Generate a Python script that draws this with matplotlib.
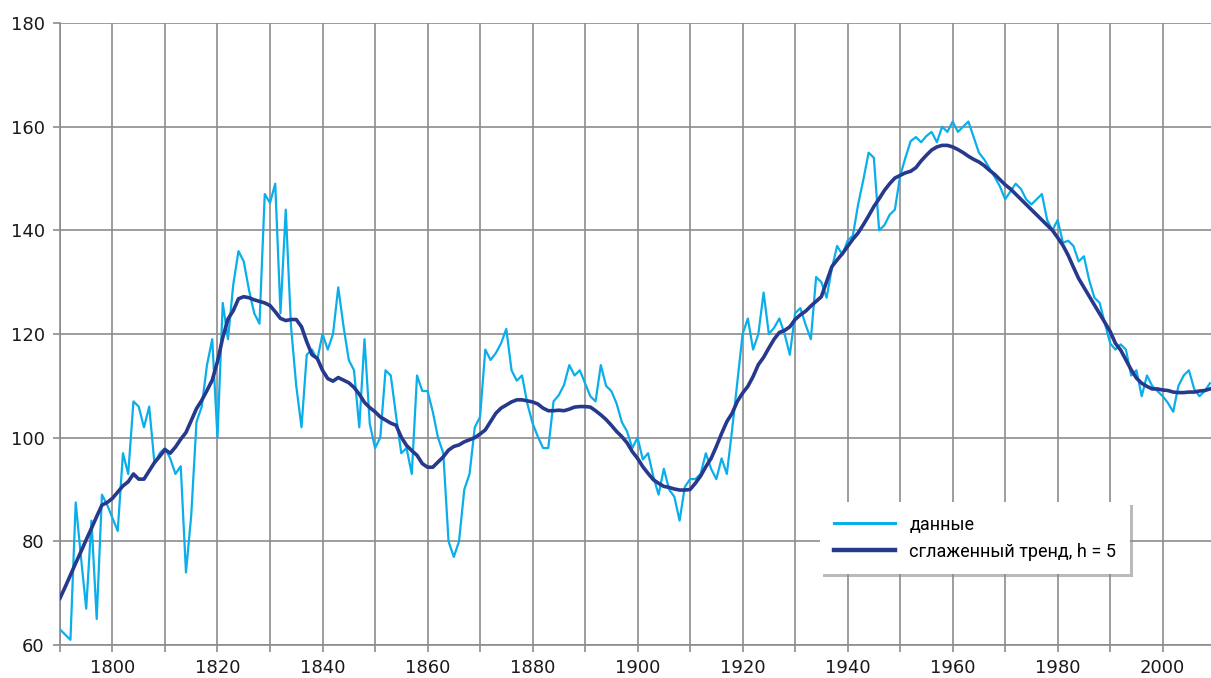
import matplotlib
matplotlib.use("Agg")
import matplotlib.pyplot as plt
from matplotlib.ticker import MultipleLocator, FuncFormatter

# years 1790..2009
start_year = 1790

data = [63, 62, 61, 87.5, 77, 67, 84, 65, 89, 87,
        84.5, 82, 97, 93, 107, 106, 102, 106, 95, 97,
        98, 96, 93, 94.5, 74, 85, 103, 106, 114, 119,
        100, 126, 119, 129.5, 136, 134, 128.5, 124, 122, 147,
        145.3, 149, 124, 144, 121.5, 110, 102, 116, 117, 115,
        120, 117, 120, 129, 121.5, 115, 113, 102, 119, 102.7,
        98, 100, 113, 112, 104.3, 97, 98, 93, 112, 109,
        109, 105, 100, 97, 80, 77, 80, 90, 93, 102,
        104, 117, 115, 116.3, 118.2, 121, 113, 111, 112, 106.6,
        102.8, 100.2, 98, 98, 107, 108.2, 110.2, 114, 112, 113,
        110.5, 108, 107, 114, 110, 109, 106.6, 103, 101.2, 98,
        100, 95.8, 97, 92.5, 89, 94, 90, 88.6, 84, 90.5,
        92, 92, 93, 97, 94, 92, 96, 93, 101.5, 110.8,
        120, 123, 117, 120, 128, 120, 121.2, 123, 120, 116,
        124, 125, 121.8, 119, 131, 130, 127, 132.7, 137, 135.3,
        138, 139, 145, 149.8, 155, 154, 140, 141, 143, 144,
        150.5, 154, 157.2, 158, 157, 158.2, 159, 157, 160, 159,
        161, 159, 160, 161, 158, 155, 153.7, 152, 150.3, 148.5,
        146, 147.5, 149, 148, 146, 145, 146, 147, 142, 140,
        142, 137.6, 138, 137, 134, 135, 130.4, 127, 126, 122,
        118.2, 117, 118, 117, 112, 113, 108, 112, 110, 109,
        108, 106.7, 105, 110, 112, 113, 109.4, 108, 109, 110.5]

trend = [69, 71.2, 73.5, 75.8, 78, 80.3, 82.5, 84.8, 87, 87.5,
         88.3, 89.5, 90.7, 91.5, 93, 92, 92, 93.6, 95.2, 96.4,
         97.7, 97, 98.2, 99.7, 101, 103.3, 105.6, 107.2, 109.1, 111.1,
         114.7, 119.3, 122.9, 124.5, 126.8, 127.2, 127, 126.6, 126.3, 126,
         125.5, 124.3, 123, 122.6, 122.8, 122.8, 121.4, 118.5, 116, 115.3,
         113, 111.4, 110.9, 111.6, 111.1, 110.6, 109.7, 108.4, 106.8, 105.8,
         105, 104, 103.4, 102.8, 102.4, 100.1, 98.5, 97.5, 96.6, 95,
         94.3, 94.3, 95.3, 96.3, 97.6, 98.3, 98.6, 99.2, 99.6, 100,
         100.7, 101.5, 103.1, 104.7, 105.7, 106.3, 106.9, 107.3, 107.3, 107.1,
         106.9, 106.5, 105.7, 105.2, 105.2, 105.3, 105.2, 105.5, 105.9, 106,
         106, 105.9, 105.2, 104.4, 103.5, 102.4, 101.2, 100.2, 99, 97.3,
         96, 94.4, 93.1, 91.9, 91.2, 90.6, 90.4, 90.1, 89.9, 89.9,
         90, 91.2, 92.6, 94.4, 96, 98.3, 100.8, 103.1, 104.7, 107,
         108.6, 109.9, 111.8, 114.1, 115.5, 117.3, 119, 120.3, 120.7, 121.4,
         122.8, 123.7, 124.4, 125.4, 126.3, 127.2, 130.1, 133, 134.3, 135.5,
         136.9, 138.3, 139.5, 141.1, 142.8, 144.6, 146.1, 147.7, 149, 150.1,
         150.6, 151.1, 151.4, 152.1, 153.4, 154.5, 155.5, 156.1, 156.4, 156.4,
         156.1, 155.6, 155, 154.3, 153.7, 153.2, 152.5, 151.6, 150.8, 149.8,
         148.8, 148, 147, 146, 145, 144, 143, 142, 141, 140,
         138.6, 137.1, 135.2, 132.9, 130.7, 129, 127.3, 125.6, 123.9, 122.2,
         120.5, 118.2, 116.9, 115, 113.1, 111.5, 110.5, 109.9, 109.4, 109.4,
         109.2, 109.1, 108.8, 108.7, 108.7, 108.8, 108.8, 109, 109.1, 109.4]

years = list(range(start_year, start_year + len(data)))

label_data = "данные"
label_trend = "сглаженный тренд, h = 5"

grid_col = "#8c8c8c"

fig = plt.figure(figsize=(12.11, 6.78), dpi=100)
ax = fig.add_axes([0.0495, 0.0487, 0.9505, 0.9173])

ax.plot(years, data, color="#0aaeea", lw=1.6, label=label_data, zorder=3)
ax.plot(years, trend, color="#26398c", lw=2.6, label=label_trend, zorder=4)

ax.set_xlim(1790, 2009.2)
ax.set_ylim(60, 180)
ax.xaxis.set_major_locator(MultipleLocator(10))
ax.xaxis.set_major_formatter(FuncFormatter(lambda v, p: f"{int(v)}" if int(v) % 20 == 0 else ""))
ax.yaxis.set_major_locator(MultipleLocator(20))

ax.grid(True, color=grid_col, lw=1.2)
ax.set_axisbelow(True)
for s in ["top", "right"]:
    ax.spines[s].set_visible(False)
for s in ["left", "bottom"]:
    ax.spines[s].set_color(grid_col)
    ax.spines[s].set_linewidth(1.2)

ax.tick_params(axis="both", colors=grid_col, length=5, width=1.2, labelcolor="#1a1a1a",
               labelsize=13)
ax.tick_params(axis="x", pad=5)
ax.tick_params(axis="y", pad=6)

leg = ax.legend(loc="upper left", bbox_to_anchor=(820 / 1211, 1 - 502 / 678),
                bbox_transform=fig.transFigure, borderaxespad=0, frameon=True,
                fancybox=False, shadow={"color": "0.55", "alpha": 0.6},
                handlelength=3.4, handletextpad=0.8, borderpad=0.75, labelspacing=0.5,
                prop={"family": "Roboto", "size": 13})
leg.get_frame().set_edgecolor("white")
leg.get_frame().set_linewidth(0)
for h in leg.get_lines():
    h.set_linewidth(h.get_linewidth() + 0.6)

fig.savefig("out.png", dpi=100)
